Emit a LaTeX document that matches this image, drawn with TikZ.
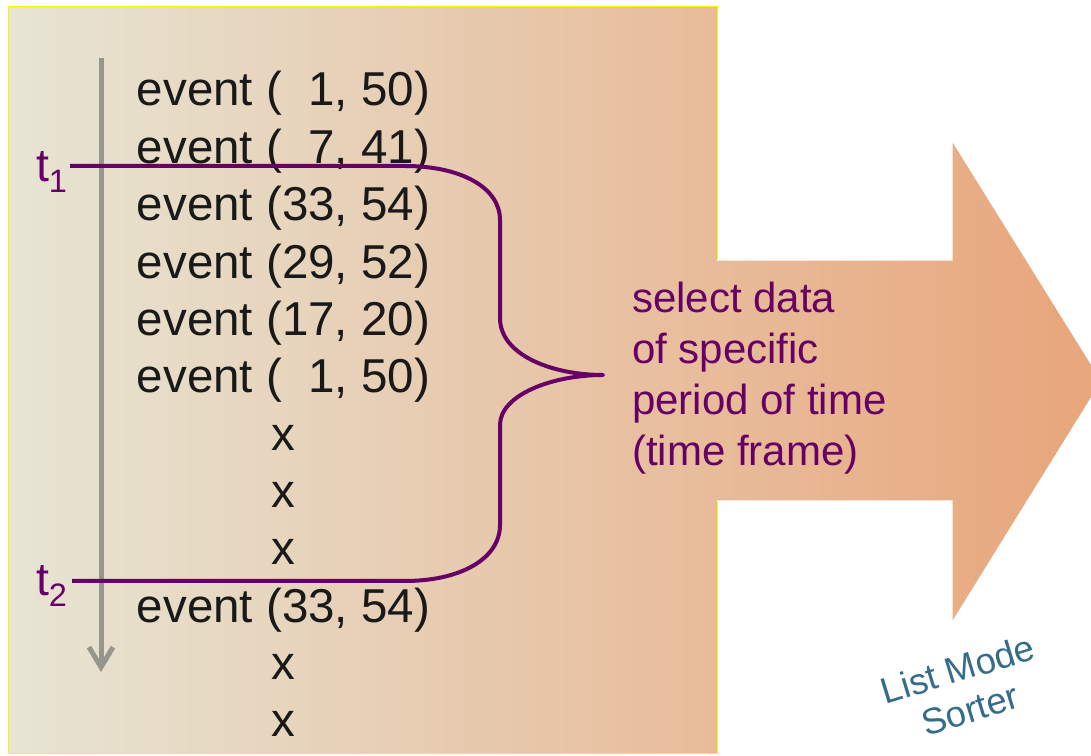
\documentclass[tikz,border=0pt]{standalone}
\usepackage{fontspec}
\setmainfont{Liberation Sans}
\usetikzlibrary{arrows.meta,positioning}

\definecolor{sandleft}{RGB}{231,229,212}
\definecolor{sandmid}{RGB}{233,203,172}
\definecolor{sandright}{RGB}{232,165,122}
\definecolor{framepurple}{RGB}{102,0,102}
\definecolor{timegray}{RGB}{150,150,140}
\definecolor{sorterblue}{RGB}{52,108,138}

\tikzset{
  eventrow/.style={anchor=base, inner sep=0pt, text=black!90,
    font=\fontsize{33.8}{40}\selectfont},
  tlabel/.style={anchor=east, inner sep=0pt, text=framepurple,
    font=\fontsize{33}{38}\selectfont},
  brace/.style={framepurple, line width=0.1cm, line join=round},
}

\begin{document}
\begin{tikzpicture}
    \useasboundingbox (0,0) rectangle (27.275,18.875);
    % data panel and the big arrow towards the sorter
    \shade[left color=sandleft, middle color=sandmid, right color=sandright]
      (0.2,0.05) -- (0.2,18.725) -- (17.925,18.725) -- (17.925,12.375)
      -- (23.8,12.375) -- (23.8,15.375) -- (27.55,9.35) -- (23.8,3.3)
      -- (23.8,6.35) -- (17.925,6.35) -- (17.925,0.05) -- cycle;
    \draw[yellow, line width=0.6pt] (17.925,12.375) -- (17.925,18.725)
      -- (0.2,18.725) -- (0.2,0.05) -- (17.925,0.05) -- (17.925,6.35);
    \draw[white, line width=1pt] (17.925,12.375) -- (23.8,12.375)
      -- (23.8,15.375) -- (27.55,9.35) -- (23.8,3.3) -- (23.8,6.35)
      -- (17.925,6.35);
    % time axis
    \coordinate (timetop) at (2.525,17.425);
    \coordinate (timebot) at (2.525,2.075);
    \draw[timegray, line width=0.125cm,
      -{Straight Barb[length=0.5cm,width=0.6cm]}] (timetop) -- (timebot);
    % list of events
    \foreach \ev [count=\i from 0] in {{event (\hphantom{0}1, 50)},
        {event (\hphantom{0}7, 41)}, {event (33, 54)}, {event (29, 52)},
        {event (17, 20)}, {event (\hphantom{0}1, 50)}, x, x, x,
        {event (33, 54)}, x, x}
      \node[eventrow] (row\i) at (7.0875,16.225-1.434*\i) {\ev};
    % time frame brace
    \coordinate (t1line) at (1.75,14.725);
    \coordinate (t2line) at (1.8,4.35);
    \coordinate (bracetip) at (15.075,9.5);
    \draw[brace] (t1line) -- (10.125,14.725)
      .. controls (11.5,14.725) and (12.5,14.2) .. (12.5,13.375)
      -- (12.5,10.925)
      .. controls (12.5,10.0) and (13.8,9.5) .. (bracetip)
      .. controls (13.8,9.5) and (12.5,9.0) .. (12.5,8.25)
      -- (12.5,5.75)
      .. controls (12.5,4.9) and (11.5,4.35) .. (10.125,4.35)
      -- (t2line);
    \node[tlabel, xshift=-0.05cm, yshift=-0.15cm] (t1) at (t1line) {t\textsubscript{1}};
    \node[tlabel, xshift=-0.1cm, yshift=-0.12cm] (t2) at (t2line) {t\textsubscript{2}};
    \node[right=0.72cm of bracetip, yshift=-0.07cm, align=left, inner sep=0pt,
      text=framepurple, font=\fontsize{29.9}{36.3}\selectfont] (select)
      {select data\\of specific\\period of time\\(time frame)};
    \node[rotate=17, align=center, text=sorterblue,
      font=\fontsize{26}{30}\selectfont] (sorter) at (24.1,1.65) {List Mode\\Sorter};
\end{tikzpicture}
\end{document}
